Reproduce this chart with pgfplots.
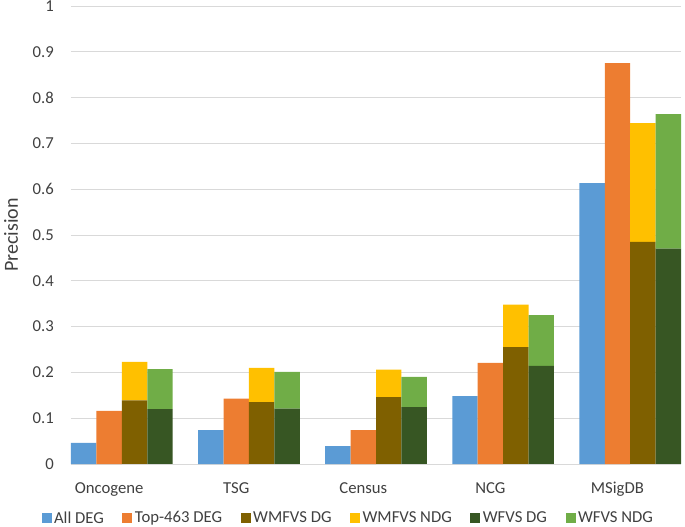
\documentclass[border=0pt]{standalone}
\usepackage{fontspec}
\setmainfont{Carlito}
\usepackage{pgfplots}
\pgfplotsset{compat=1.18}
\definecolor{cBlue}{HTML}{5B9BD5}
\definecolor{cOrange}{HTML}{ED7D31}
\definecolor{cBrown}{HTML}{7F6000}
\definecolor{cYellow}{HTML}{FFC000}
\definecolor{cDkGreen}{HTML}{375623}
\definecolor{cLtGreen}{HTML}{70AD47}
\definecolor{gridgray}{HTML}{D9D9D9}
\definecolor{tgray}{HTML}{404040}
\begin{document}
\begin{tikzpicture}[font=\fontsize{16.7}{20}\selectfont]
\path[use as bounding box] (-71pt,-63pt) rectangle (614pt,464pt);
\pgfplotsset{myax/.style={width=610pt,height=458pt,scale only axis,
  xmin=-0.4,xmax=4.4,ymin=0,ymax=1,at={(0pt,0pt)},anchor=south west}}
% main axis: grid, labels, legend, single bars
\begin{axis}[myax, ybar, bar width=0.2,
  axis line style={draw=none},
  major tick length=0pt, tick style={draw=none},
  ymajorgrids, grid style={color=gridgray, line width=0.9pt},
  ytick={0,0.1,0.2,0.3,0.4,0.5,0.6,0.7,0.8,0.9,1},
  xtick={-0.1,0.9,1.9,2.9,3.9},
  xticklabels={Oncogene,TSG,Census,NCG,MSigDB},
  /pgf/number format/assume math mode=true,
  every tick label/.append style={text=tgray, font=\fontsize{16.7}{20}\selectfont},
  xticklabel style={anchor=base, inner sep=0pt, yshift=-29pt},
  yticklabel style={anchor=east, inner sep=0pt, xshift=-17pt},
  ylabel={Precision},
  ylabel style={at={(axis description cs:-0.0869,0.5)}, anchor=base, rotate=0, text=tgray, font=\fontsize{20}{24}\selectfont},
  legend columns=6,
  legend style={draw=none, fill=none, at={(axis description cs:0.4549,-0.1179)}, anchor=center,
    text=tgray, font=\fontsize{16.7}{20}\selectfont,
    nodes={inner xsep=2.5pt, inner ysep=1pt},
    /tikz/every even column/.append style={column sep=16pt}},
  legend image code/.code={\fill[#1] (0pt,-4.5pt) rectangle (10pt,5.5pt);},
]
\addplot[fill=cBlue, draw=none, bar shift=-0.3, forget plot] coordinates {(0,0.046) (1,0.074) (2,0.039) (3,0.148) (4,0.613)};
\addplot[fill=cOrange, draw=none, bar shift=-0.1, forget plot] coordinates {(0,0.116) (1,0.143) (2,0.074) (3,0.221) (4,0.875)};
\addlegendimage{fill=cBlue, draw=none}
\addlegendentry{All DEG}
\addlegendimage{fill=cOrange, draw=none}
\addlegendentry{Top-463 DEG}
\addlegendimage{fill=cBrown, draw=none}
\addlegendentry{WMFVS DG}
\addlegendimage{fill=cYellow, draw=none}
\addlegendentry{WMFVS NDG}
\addlegendimage{fill=cDkGreen, draw=none}
\addlegendentry{WFVS DG}
\addlegendimage{fill=cLtGreen, draw=none}
\addlegendentry{WFVS NDG}
\end{axis}
% WMFVS stacked
\begin{axis}[myax, hide axis, ybar stacked, bar width=0.2, bar shift=0.1]
\addplot[fill=cBrown, draw=none] coordinates {(0,0.139) (1,0.135) (2,0.146) (3,0.255) (4,0.485)};
\addplot[fill=cYellow, draw=none] coordinates {(0,0.084) (1,0.075) (2,0.060) (3,0.093) (4,0.259)};
\end{axis}
% WFVS stacked
\begin{axis}[myax, hide axis, ybar stacked, bar width=0.2, bar shift=0.3]
\addplot[fill=cDkGreen, draw=none] coordinates {(0,0.120) (1,0.121) (2,0.124) (3,0.214) (4,0.470)};
\addplot[fill=cLtGreen, draw=none] coordinates {(0,0.087) (1,0.080) (2,0.066) (3,0.111) (4,0.294)};
\end{axis}
\end{tikzpicture}
\end{document}
